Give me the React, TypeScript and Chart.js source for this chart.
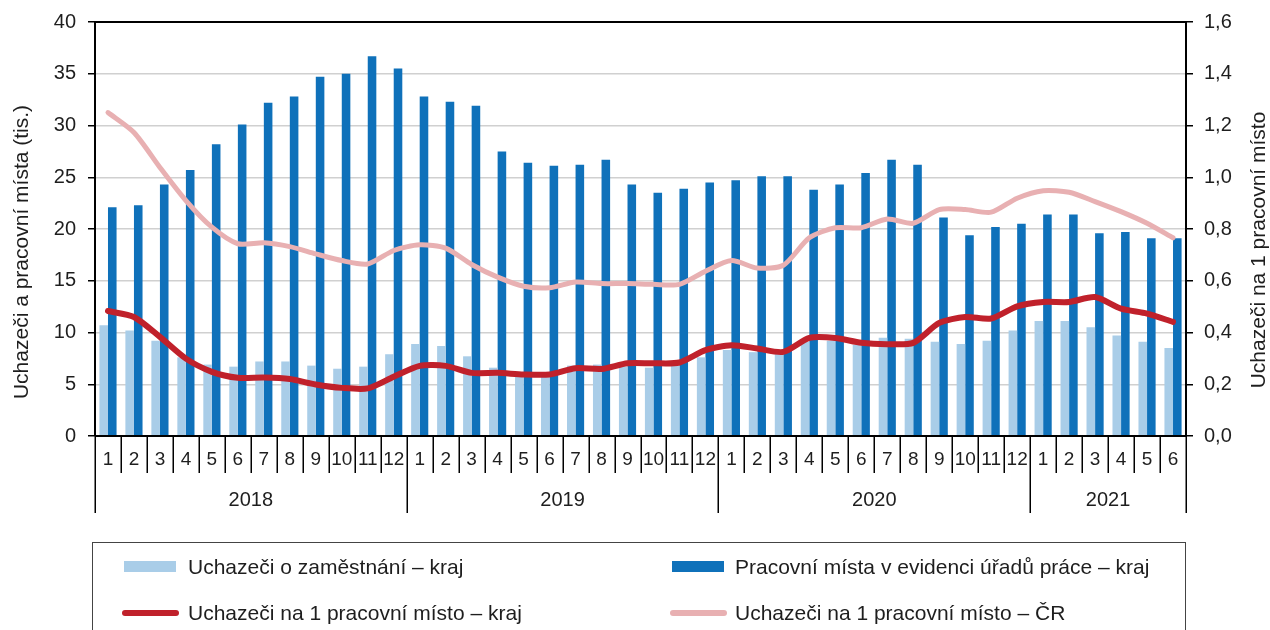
import React, { useEffect, useRef } from "react";
import { Chart, registerables } from "chart.js";

Chart.register(...registerables);

const monthLabels = [
  "1","2","3","4","5","6","7","8","9","10","11","12",
  "1","2","3","4","5","6","7","8","9","10","11","12",
  "1","2","3","4","5","6","7","8","9","10","11","12",
  "1","2","3","4","5","6",
];
const years = ["2018", "2019", "2020", "2021"];
const yearMonthCounts = [12, 12, 12, 6];

// Uchazeči o zaměstnání – kraj (tis.)
const jobSeekers = [
  10.7, 10.2, 9.2, 7.6, 6.9, 6.7, 7.2, 7.2, 6.8, 6.5, 6.7, 7.9,
  8.9, 8.7, 7.7, 6.6, 6.0, 6.0, 6.8, 6.9, 6.7, 6.6, 6.8, 7.6,
  8.3, 8.1, 8.0, 9.1, 9.2, 8.8, 9.5, 9.4, 9.1, 8.9, 9.2, 10.2,
  11.1, 11.1, 10.5, 9.7, 9.1, 8.5,
];
// Pracovní místa v evidenci úřadů práce – kraj (tis.)
const vacancies = [
  22.1, 22.3, 24.3, 25.7, 28.2, 30.1, 32.2, 32.8, 34.7, 35.0, 36.7, 35.5,
  32.8, 32.3, 31.9, 27.5, 26.4, 26.1, 26.2, 26.7, 24.3, 23.5, 23.9, 24.5,
  24.7, 25.1, 25.1, 23.8, 24.3, 25.4, 26.7, 26.2, 21.1, 19.4, 20.2, 20.5,
  21.4, 21.4, 19.6, 19.7, 19.1, 19.1,
];
// Uchazeči na 1 pracovní místo – kraj
const ratioRegion = [
  0.483, 0.46, 0.383, 0.299, 0.248, 0.225, 0.226, 0.22, 0.199, 0.186, 0.184, 0.229,
  0.271, 0.271, 0.244, 0.244, 0.238, 0.238, 0.262, 0.259, 0.281, 0.281, 0.284, 0.332,
  0.351, 0.338, 0.325, 0.379, 0.379, 0.36, 0.355, 0.36, 0.437, 0.46, 0.454, 0.501,
  0.518, 0.518, 0.537, 0.492, 0.473, 0.441,
];
// Uchazeči na 1 pracovní místo – ČR
const ratioCR = [
  1.25, 1.173, 1.038, 0.91, 0.807, 0.743, 0.747, 0.732, 0.704, 0.678, 0.665, 0.717,
  0.739, 0.726, 0.663, 0.614, 0.579, 0.573, 0.595, 0.589, 0.589, 0.586, 0.586, 0.637,
  0.678, 0.649, 0.66, 0.766, 0.805, 0.805, 0.839, 0.822, 0.875, 0.875, 0.865, 0.919,
  0.948, 0.942, 0.906, 0.867, 0.822, 0.766,
];

const leftTitle = "Uchazeči a pracovní místa (tis.)";
const rightTitle = "Uchazeči na 1 pracovní místo";
const legendItems = [
  { label: "Uchazeči o zaměstnání – kraj", color: "#a9cde8", kind: "bar" },
  { label: "Pracovní místa v evidenci úřadů práce – kraj", color: "#0f71ba", kind: "bar" },
  { label: "Uchazeči na 1 pracovní místo – kraj", color: "#c0212b", kind: "line" },
  { label: "Uchazeči na 1 pracovní místo – ČR", color: "#e8b0b2", kind: "line" },
];

const FONT = "'Liberation Sans', Arial, sans-serif";
const TEXT = "#1e1e1e";

const decorPlugin = {
  id: "decor",
  afterDraw(chart: any) {
    const { ctx, chartArea } = chart;
    const { left, right, top, bottom } = chartArea;
    const n = monthLabels.length;
    const step = (right - left) / n;
    ctx.save();
    ctx.strokeStyle = "#000";
    ctx.lineWidth = 2;
    ctx.beginPath();
    ctx.moveTo(left, top);
    ctx.lineTo(right, top);
    ctx.moveTo(left, bottom);
    ctx.lineTo(right, bottom);
    ctx.moveTo(left, top);
    ctx.lineTo(left, bottom);
    ctx.moveTo(right, top);
    ctx.lineTo(right, bottom);
    ctx.stroke();
    const yearBounds = new Set<number>();
    let acc = 0;
    yearBounds.add(0);
    yearMonthCounts.forEach((c) => {
      acc += c;
      yearBounds.add(acc);
    });
    ctx.lineWidth = 1.5;
    ctx.beginPath();
    for (let i = 0; i <= n; i++) {
      const x = Math.round(left + i * step) + 0.25;
      const len = yearBounds.has(i) ? 77 : 37;
      ctx.moveTo(x, bottom);
      ctx.lineTo(x, bottom + len);
    }
    ctx.stroke();
    ctx.fillStyle = TEXT;
    ctx.textAlign = "center";
    ctx.textBaseline = "middle";
    ctx.font = `19px ${FONT}`;
    for (let i = 0; i < n; i++) {
      const x = left + (i + 0.5) * step;
      ctx.fillText(monthLabels[i], x, bottom + 24);
    }
    ctx.font = `20px ${FONT}`;
    let start = 0;
    yearMonthCounts.forEach((c, yi) => {
      const x = left + (start + c / 2) * step;
      ctx.fillText(years[yi], x, bottom + 64);
      start += c;
    });
    ctx.font = `21px ${FONT}`;
    ctx.save();
    ctx.translate(22, 252);
    ctx.rotate(-Math.PI / 2);
    ctx.fillText(leftTitle, 0, 0);
    ctx.restore();
    ctx.save();
    ctx.translate(1259, 250);
    ctx.rotate(-Math.PI / 2);
    ctx.fillText(rightTitle, 0, 0);
    ctx.restore();
    ctx.restore();
  },
};

export default function App() {
  const ref = useRef<HTMLCanvasElement | null>(null);
  useEffect(() => {
    if (!ref.current) return;
    const chart = new Chart(ref.current, {
      type: "bar",
      data: {
        labels: monthLabels.map((m, i) => `${i}-${m}`),
        datasets: [
          {
            type: "line",
            label: legendItems[2].label,
            data: ratioRegion,
            yAxisID: "y1",
            borderColor: legendItems[2].color,
            backgroundColor: legendItems[2].color,
            borderWidth: 6,
            pointRadius: 0,
            tension: 0.25,
            borderCapStyle: "round",
            borderJoinStyle: "round",
            order: 0,
          },
          {
            type: "line",
            label: legendItems[3].label,
            data: ratioCR,
            yAxisID: "y1",
            borderColor: legendItems[3].color,
            backgroundColor: legendItems[3].color,
            borderWidth: 5,
            pointRadius: 0,
            tension: 0.25,
            borderCapStyle: "round",
            borderJoinStyle: "round",
            order: 1,
          },
          {
            type: "bar",
            label: legendItems[0].label,
            data: jobSeekers,
            yAxisID: "y",
            backgroundColor: legendItems[0].color,
            categoryPercentage: 0.66,
            barPercentage: 1.0,
            order: 2,
          },
          {
            type: "bar",
            label: legendItems[1].label,
            data: vacancies,
            yAxisID: "y",
            backgroundColor: legendItems[1].color,
            categoryPercentage: 0.66,
            barPercentage: 1.0,
            order: 2,
          },
        ],
      },
      options: {
        animation: false,
        responsive: false,
        maintainAspectRatio: false,
        layout: { padding: { top: 21, left: 0, right: 0, bottom: 0 } },
        plugins: { legend: { display: false }, tooltip: { enabled: false } },
        scales: {
          x: {
            grid: { display: false, drawTicks: false },
            ticks: { display: false },
            border: { display: false },
            afterFit: (s: any) => {
              s.height = 194;
            },
          },
          y: {
            position: "left",
            min: 0,
            max: 40,
            ticks: {
              stepSize: 5,
              color: TEXT,
              font: { family: FONT, size: 20, lineHeight: 1 },
              padding: 12,
            },
            grid: {
              color: "#d0d0d0",
              lineWidth: 1.5,
              tickLength: 7,
              tickColor: "#000",
            },
            border: { display: false },
            afterFit: (s: any) => {
              s.width = 95;
            },
          },
          y1: {
            position: "right",
            min: 0,
            max: 1.6,
            ticks: {
              stepSize: 0.2,
              color: TEXT,
              font: { family: FONT, size: 20, lineHeight: 1 },
              padding: 11,
              callback: (v: any) => Number(v).toFixed(1).replace(".", ","),
            },
            grid: {
              drawOnChartArea: false,
              tickLength: 7,
              tickColor: "#000",
              lineWidth: 1.5,
            },
            border: { display: false },
            afterFit: (s: any) => {
              s.width = 84;
            },
          },
        },
      },
      plugins: [decorPlugin],
    } as any);
    return () => chart.destroy();
  }, []);

  const legendPos = [
    { sx: 124, tx: 188, cy: 567 },
    { sx: 672, tx: 735, cy: 567 },
    { sx: 124, tx: 188, cy: 613 },
    { sx: 672, tx: 735, cy: 613 },
  ];

  return (
    <div
      style={{
        position: "fixed",
        left: 0,
        top: 0,
        width: 1270,
        height: 630,
        overflow: "hidden",
        background: "#fff",
      }}
    >
      <canvas ref={ref} width={1270} height={630} style={{ position: "absolute", left: 0, top: 0 }} />
      <div
        style={{
          position: "absolute",
          left: 92,
          top: 542,
          width: 1094,
          height: 120,
          border: "1px solid #444",
          boxSizing: "border-box",
        }}
      />
      {legendItems.map((it, i) => {
        const p = legendPos[i];
        return (
          <React.Fragment key={i}>
            {it.kind === "bar" ? (
              <div
                style={{
                  position: "absolute",
                  left: p.sx,
                  top: p.cy - 6,
                  width: 52,
                  height: 11,
                  background: it.color,
                }}
              />
            ) : (
              <div
                style={{
                  position: "absolute",
                  left: p.sx - 2,
                  top: p.cy - 3,
                  width: 57,
                  height: 6,
                  borderRadius: 3,
                  background: it.color,
                }}
              />
            )}
            <div
              style={{
                position: "absolute",
                left: p.tx,
                top: p.cy - 13,
                height: 26,
                lineHeight: "26px",
                fontFamily: FONT,
                fontSize: 21,
                color: TEXT,
                whiteSpace: "nowrap",
              }}
            >
              {it.label}
            </div>
          </React.Fragment>
        );
      })}
    </div>
  );
}
